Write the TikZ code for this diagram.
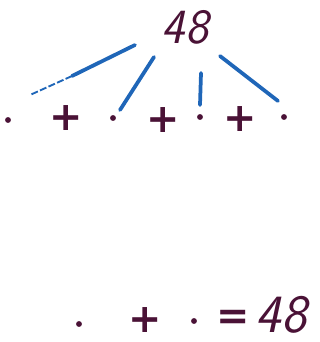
\documentclass[tikz,border=0pt]{standalone}
\usepackage{fontspec}
\usepackage{xcolor}
\usepackage{tikz}
\usetikzlibrary{calc}
\newfontfamily\opfont{DejaVu Sans}
\definecolor{ink}{HTML}{4A1236}
\definecolor{pen}{HTML}{1F66B8}

\begin{document}
\begin{tikzpicture}[
  x=0.03cm,y=-0.03cm,
  num/.style={text=ink,inner sep=0pt,font=\sffamily\slshape\fontsize{42}{46}\selectfont},
  bignum/.style={text=ink,inner sep=0pt,text depth=0pt,font=\sffamily\slshape\fontsize{46}{50}\selectfont},
  pt/.style={circle,fill=ink,inner sep=0pt,minimum size=5pt},
  op/.style={text=ink,inner sep=0pt,text depth=0pt,font=\opfont\bfseries\fontsize{34}{36}\selectfont},
  br/.style={draw=pen,line width=3.2pt,line cap=round},
  faint/.style={draw=pen,line width=1.6pt,dashed,dash pattern=on 6pt off 2pt}
]
\useasboundingbox (0,0) rectangle (320,342);
\node[num] (top) at (185,27) {48};
\node[pt] (d1) at (8,120) {};
\node[op] (p1) at (66,118) {+};
\node[pt] (d2) at (113,118) {};
\node[op] (p2) at (163,120) {+};
\node[pt] (d3) at (200,117) {};
\node[op] (p3) at (240,119) {+};
\node[pt] (d4) at (284,117) {};
\node[pt] (e1) at (79,324) {};
\node[op] (ep) at (145,320) {+};
\node[pt] (e2) at (194,321) {};
\node[op] (eq) at (233,320) {=};
\node[bignum] (res) at (281,314) {48};
\coordinate (a1) at (135,45);
\coordinate (a2) at (72,76);
\coordinate (a3) at (30,95);
\coordinate (b1) at (154,57);
\coordinate (b2) at (120,110);
\coordinate (c1) at (201,73);
\coordinate (c2) at (200,105);
\coordinate (f1) at (220,56);
\coordinate (f2) at (278,101);
\draw[br] (a1) -- (a2);
\draw[faint] (a2) -- (a3);
\draw[br] (b1) -- (b2);
\draw[br] (c1) -- (c2);
\draw[br] (f1) -- (f2);
\end{tikzpicture}
\end{document}
